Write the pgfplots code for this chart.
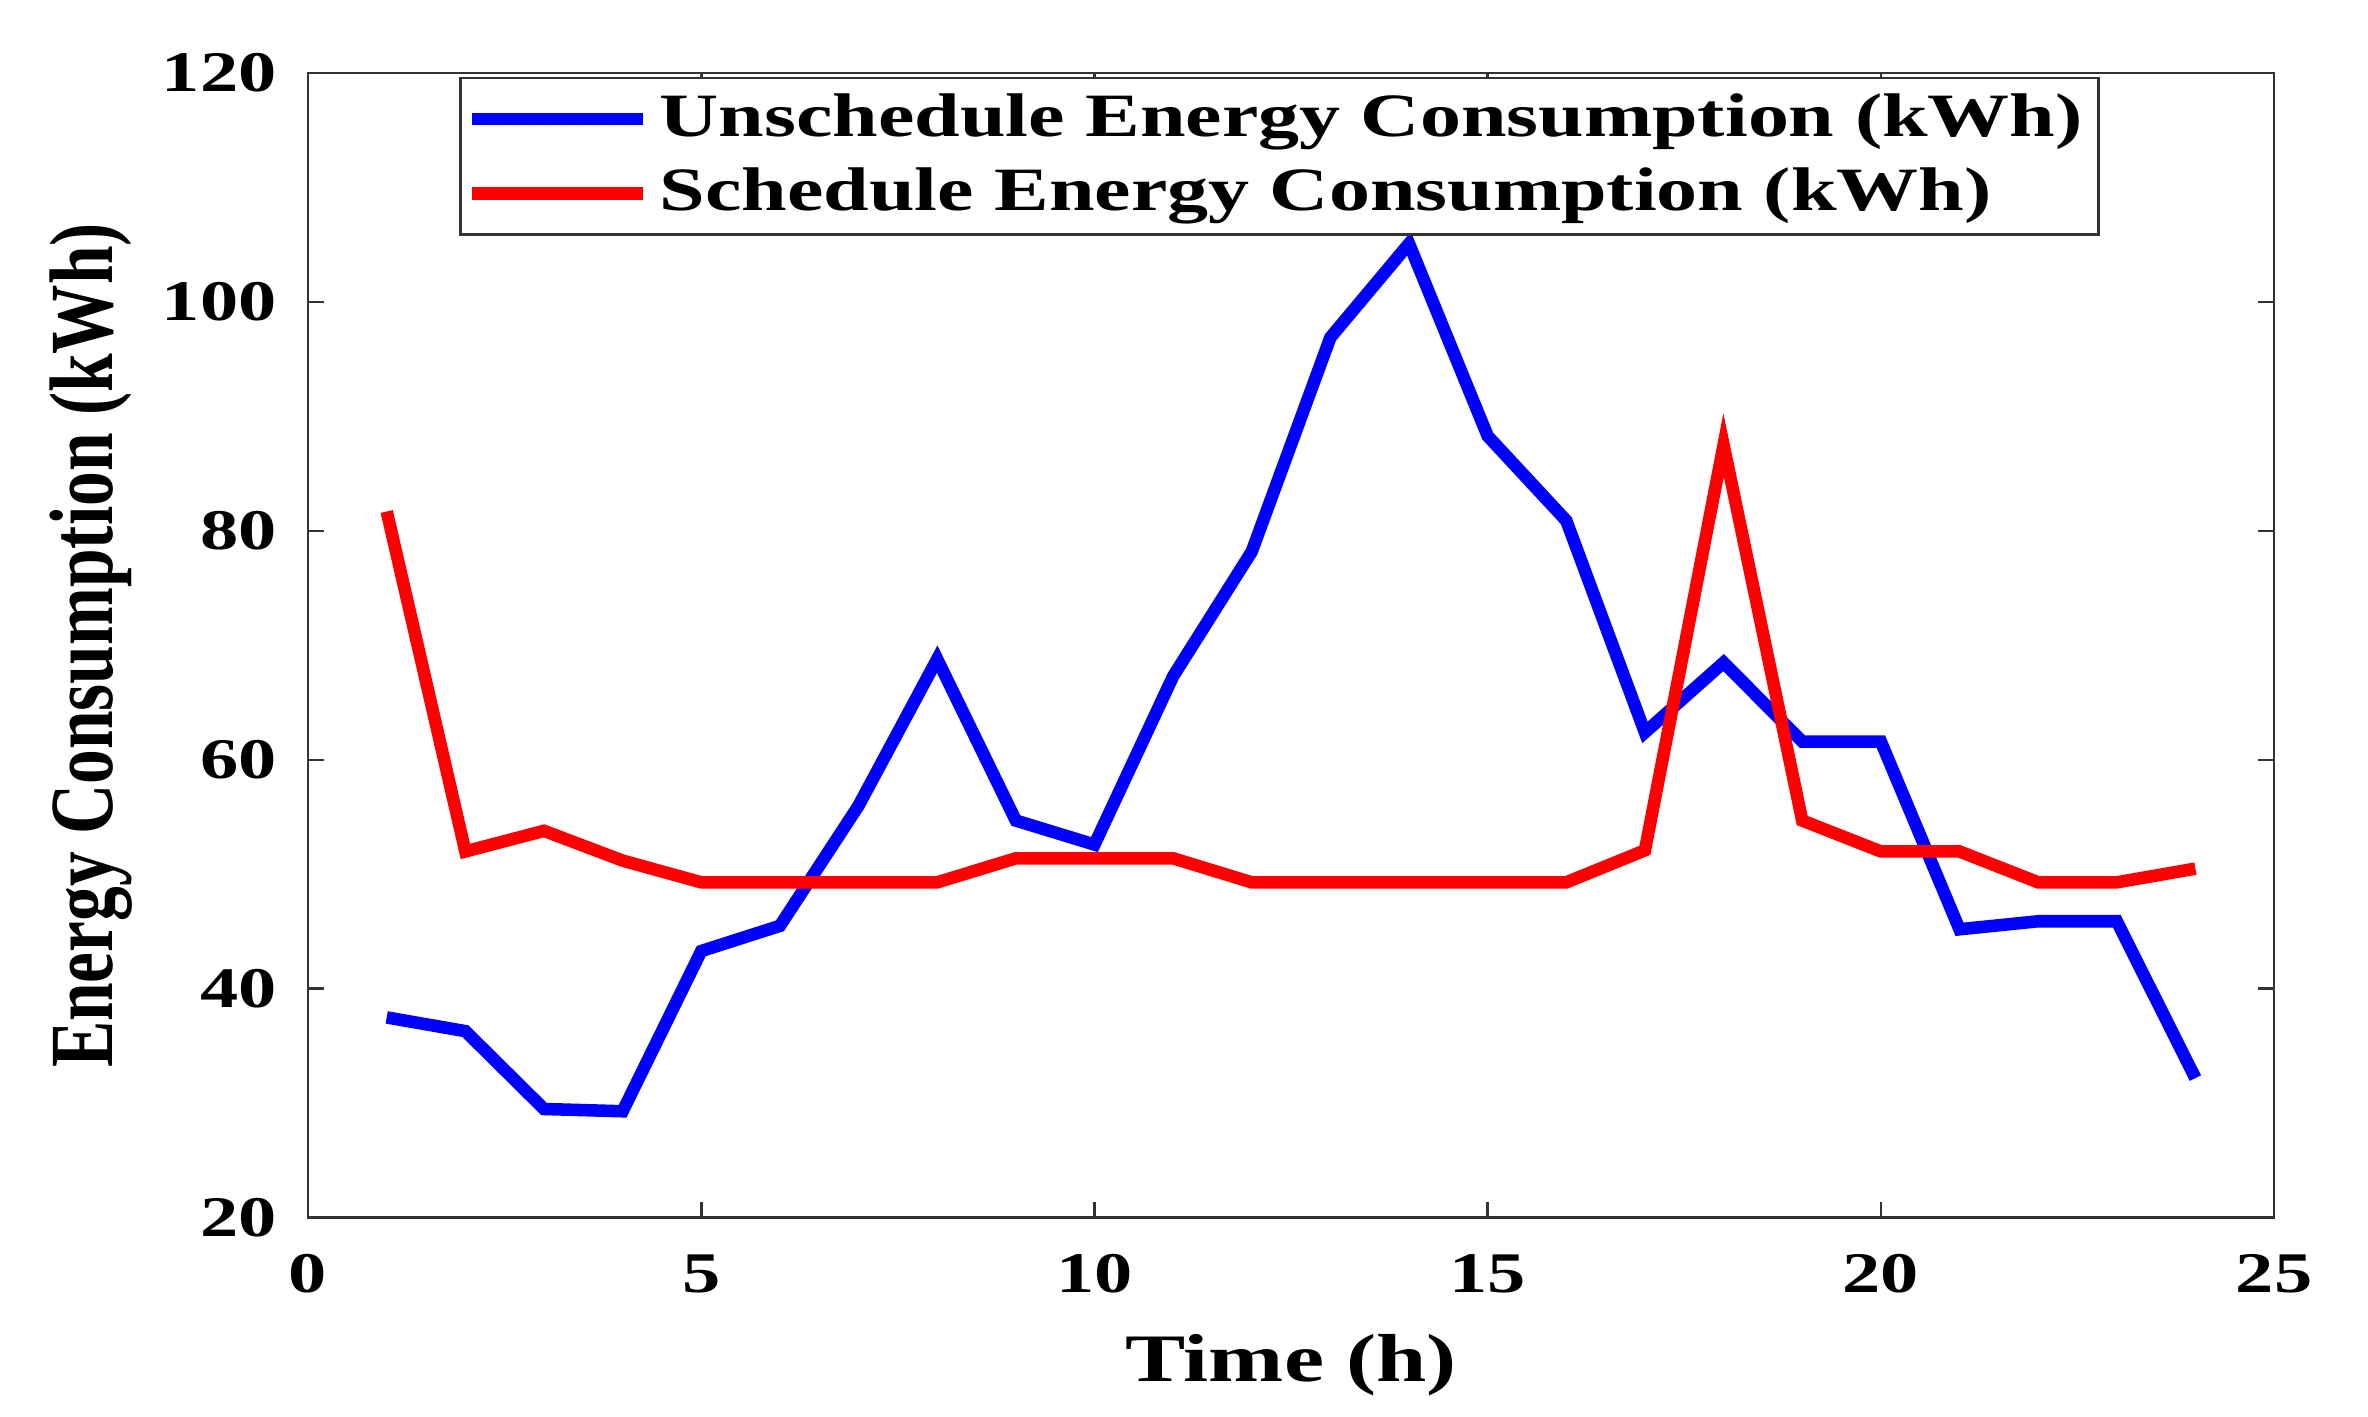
\documentclass[border=0pt]{standalone}
\usepackage{fontspec}
\setmainfont{Liberation Serif}[FakeStretch=1.33]
\newfontfamily\ylabfont{Liberation Serif}
\usepackage{pgfplots}
\pgfplotsset{compat=1.18}
\begin{document}
\begin{tikzpicture}
\begin{axis}[
  name=ax,
  width=376.5pt, height=219.2pt,
  scale only axis,
  xmin=0, xmax=25, ymin=20, ymax=120,
  xtick={0,5,...,25}, ytick={20,40,...,120},
  tick align=inside,
  major tick length=3pt,
  axis line style={black!80, line width=0.5pt},
  every tick/.style={black!80, line width=0.5pt},
  /pgf/number format/assume math mode=true,
  tick label style={font=\fontsize{11}{13}\selectfont\bfseries},
  xticklabel style={yshift=-3.5pt},
  yticklabel style={xshift=-2.5pt},
  xlabel={Time (h)},
  xlabel style={font=\fontsize{13}{15}\selectfont\bfseries, yshift=-1pt},
  ylabel={\scalebox{1}[1.3]{Energy Consumption (kWh)}},
  ylabel style={font=\ylabfont\fontsize{13.3}{15}\selectfont\bfseries, yshift=-1.2pt},
  legend cell align=left,
  legend style={at={(rel axis cs:0.077,0.997)}, anchor=north west,
    font=\fontsize{11.8}{13}\selectfont\bfseries,
    draw=black!80, line width=0.5pt, row sep=0.6pt, inner sep=1pt},
  legend image code/.code={\draw[#1] (0cm,0cm) -- (1.15cm,0cm);},
]
\addplot[blue, line width=2.4pt] coordinates {
  (1,37.5) (2,36.3) (3,29.5) (4,29.3) (5,43.3) (6,45.5) (7,56.0) (8,68.8)
  (9,54.7) (10,52.6) (11,67.3) (12,78.2) (13,96.9) (14,105.1) (15,88.3) (16,80.9)
  (17,62.4) (18,68.5) (19,61.6) (20,61.6) (21,45.2) (22,45.9) (23,45.9) (24,32.2)
};
\addlegendentry{Unschedule Energy Consumption (kWh)}
\addplot[red, line width=2.4pt] coordinates {
  (1,81.7) (2,52.0) (3,53.8) (4,51.2) (5,49.3) (6,49.3) (7,49.3) (8,49.3)
  (9,51.4) (10,51.4) (11,51.4) (12,49.3) (13,49.3) (14,49.3) (15,49.3) (16,49.3)
  (17,52.1) (18,87.5) (19,54.7) (20,52.0) (21,52.0) (22,49.3) (23,49.3) (24,50.5)
};
\addlegendentry{Schedule Energy Consumption (kWh)}
\end{axis}
\pgfresetboundingbox
\path ([xshift=-59pt,yshift=-38.1pt]ax.south west) rectangle ([xshift=18pt,yshift=14pt]ax.north east);
\end{tikzpicture}
\end{document}
